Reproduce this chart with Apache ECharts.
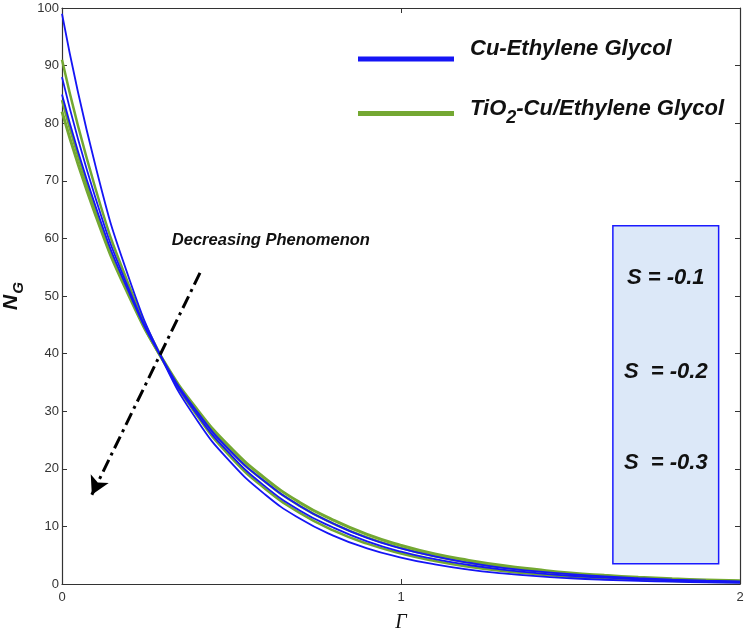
<!DOCTYPE html>
<html>
<head>
<meta charset="utf-8">
<script src="https://cdn.jsdelivr.net/npm/echarts@6/dist/echarts.min.js"></script>
<style>html,body{margin:0;padding:0;background:#fff}#c{width:749px;height:632px}</style>
</head>
<body>
<div id="c"></div>
<script>
// Γ sample positions
var gammaValues = [0,0.1,0.2,0.3,0.4,0.5,0.6,0.7,0.8,0.9,1.0,1.1,1.2,1.3,1.4,1.5,1.6,1.7,1.8,1.9,2.0];
// Cu-Ethylene Glycol (blue), three S values
var cuS1 = [99,72.3,52.7,38.5,28.3,21.0,15.5,11.4,8.4,6.2,4.6,3.4,2.5,1.85,1.35,1.0,0.74,0.55,0.40,0.30,0.22];
var cuS2 = [88,66.8,50.8,38.6,29.3,22.3,16.9,12.8,9.8,7.4,5.6,4.3,3.3,2.5,1.9,1.43,1.09,0.83,0.63,0.48,0.36];
var cuS3 = [85,65.4,50.3,38.7,29.8,22.9,17.7,13.6,10.5,8.0,6.2,4.8,3.7,2.8,2.2,1.7,1.3,1.0,0.77,0.59,0.46];
// TiO2-Cu/Ethylene Glycol (green), three S values
var tiS1 = [91,68.4,51.5,38.7,29.1,21.9,16.5,12.4,9.3,7.0,5.3,4.0,3.0,2.25,1.7,1.27,0.96,0.72,0.54,0.41,0.31];
var tiS2 = [84,64.8,50.0,38.5,29.7,22.9,17.7,13.6,10.5,8.1,6.25,4.8,3.7,2.87,2.2,1.7,1.3,1.0,0.78,0.6,0.46];
var tiS3 = [82,63.9,49.7,38.7,30.2,23.5,18.3,14.2,11.1,8.6,6.7,5.2,4.1,3.2,2.5,1.9,1.5,1.17,0.91,0.71,0.55];
var seriesNames = ['Cu-Ethylene Glycol', 'TiO2-Cu/Ethylene Glycol'];
var sLabels = ['S = -0.1', 'S  = -0.2', 'S  = -0.3'];
var yTicks = [0,10,20,30,40,50,60,70,80,90,100];
var xTicks = [0,1,2];
// arrow annotation end points (data coords)
var arrowFrom = [0.407, 54.0];
var arrowTo = [0.088, 15.5];

function pairs(ys){ return gammaValues.map(function(x,i){ return [x, ys[i]]; }); }

var BLUE = '#1515f5', GREEN = '#74a832';
var FONT = 'Liberation Sans, Arial, sans-serif';

var chart = echarts.init(document.getElementById('c'), null, {renderer:'canvas'});
function mk(name, data, color, width, z){
  return {name:name, type:'line', data:pairs(data), smooth:true, showSymbol:false, symbol:'none',
    lineStyle:{color:color, width:width}, itemStyle:{color:color}, z:z, animation:false};
}
var series = [
  mk(seriesNames[1], tiS1, GREEN, 2.5, 2),
  mk(seriesNames[1], tiS2, GREEN, 2.5, 2),
  mk(seriesNames[1], tiS3, GREEN, 3, 2),
  mk(seriesNames[0], cuS1, BLUE, 1.8, 3),
  mk(seriesNames[0], cuS2, BLUE, 1.8, 3),
  mk(seriesNames[0], cuS3, BLUE, 1.8, 3)
];
series[3].markLine = {
  silent:true, animation:false, symbol:['none','arrow'], symbolSize:[15,18],
  label:{show:false},
  lineStyle:{color:'#000', width:3, type:[13,5,3,5]},
  data:[[{coord:arrowFrom},{coord:arrowTo}]]
};

var axisCol = '#333';
chart.setOption({
  animation:false,
  grid:{left:62, right:9, top:8, bottom:48, containLabel:false, outerBoundsMode:'none'},
  legend:{
    orient:'vertical', left:358, top:38, padding:0, itemWidth:96, itemHeight:5, itemGap:36,
    icon:'rect', data:[seriesNames[0], seriesNames[1]],
    textStyle:{fontFamily:FONT, fontSize:22, fontWeight:'bold', fontStyle:'italic', color:'#111', padding:[0,0,20,11],
      rich:{
        a:{fontFamily:FONT, fontSize:22, fontWeight:'bold', fontStyle:'italic', color:'#111', padding:[10,0,0,0]},
        s:{fontFamily:FONT, fontSize:18, fontWeight:'bold', fontStyle:'italic', color:'#111', padding:[30,0,0,0]}}},
    formatter:function(n){ return n === seriesNames[1] ? '{a|TiO}{s|2}{a|-Cu/Ethylene Glycol}' : n; }
  },
  xAxis:[{
    type:'value', min:0, max:2, interval:1, position:'bottom',
    name:'Γ', nameLocation:'middle', nameGap:29,
    nameTextStyle:{fontFamily:'Liberation Serif, Times New Roman, serif', fontStyle:'italic', fontSize:20, color:'#111'},
    axisLine:{show:true, onZero:false, lineStyle:{color:axisCol, width:1.2}},
    axisTick:{show:true, inside:true, length:5, lineStyle:{color:axisCol}},
    axisLabel:{fontFamily:FONT, fontSize:13, color:'#333', margin:7, formatter:function(v){return String(v);}},
    splitLine:{show:false}
  },{
    type:'value', min:0, max:2, interval:1, position:'top',
    axisLine:{show:true, onZero:false, lineStyle:{color:axisCol, width:1.2}},
    axisTick:{show:true, inside:true, length:5, lineStyle:{color:axisCol}},
    axisLabel:{show:false}, splitLine:{show:false}
  }],
  yAxis:[{
    type:'value', min:0, max:100, interval:10, position:'left',
    name:'N{s|G}', nameLocation:'middle', nameGap:36, nameRotate:90,
    nameTextStyle:{fontFamily:FONT, fontSize:21, fontWeight:'bold', fontStyle:'italic', color:'#111',
      rich:{s:{fontFamily:FONT, fontSize:15, fontWeight:'bold', fontStyle:'italic', color:'#111', padding:[14,0,0,1]}}},
    axisLine:{show:true, onZero:false, lineStyle:{color:axisCol, width:1.2}},
    axisTick:{show:true, inside:true, length:5, lineStyle:{color:axisCol}},
    axisLabel:{fontFamily:FONT, fontSize:13, color:'#333', margin:3},
    splitLine:{show:false}
  },{
    type:'value', min:0, max:100, interval:10, position:'right',
    axisLine:{show:true, onZero:false, lineStyle:{color:axisCol, width:1.2}},
    axisTick:{show:true, inside:true, length:5, lineStyle:{color:axisCol}},
    axisLabel:{show:false}, splitLine:{show:false}
  }],
  series:series
});

// annotations placed in data space
var p0 = chart.convertToPixel({gridIndex:0}, [1.625, 62.2]);
var p1 = chart.convertToPixel({gridIndex:0}, [1.937, 3.5]);
var txtPos = chart.convertToPixel({gridIndex:0}, [0.324, 59.7]);
var boxCx = (p0[0] + p1[0]) / 2;
var sY = [53.2, 36.9, 21.0];
var graphics = [
  {type:'rect', shape:{x:p0[0], y:p0[1], width:p1[0]-p0[0], height:p1[1]-p0[1]},
   style:{fill:'#dce8f8', stroke:'#1a1aff', lineWidth:1.5}, z:10},
  {type:'text', x:txtPos[0], y:txtPos[1], style:{text:'Decreasing Phenomenon', font:'italic bold 16.5px ' + FONT, fill:'#111', textAlign:'left', textVerticalAlign:'middle'}, z:10}
];
sLabels.forEach(function(t, i){
  var p = chart.convertToPixel({gridIndex:0}, [0, sY[i]]);
  graphics.push({type:'text', x:boxCx, y:p[1], style:{text:t, font:'italic bold 22px ' + FONT, fill:'#111', textAlign:'center', textVerticalAlign:'middle'}, z:11});
});
chart.setOption({graphic:graphics});
</script>
</body>
</html>
